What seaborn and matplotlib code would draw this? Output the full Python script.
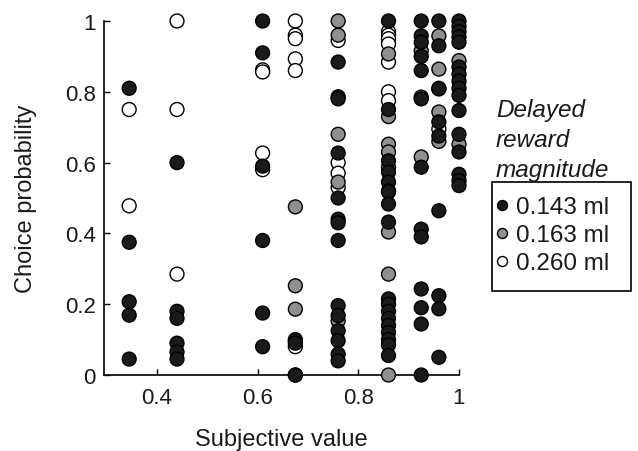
import numpy as np
import pandas as pd
import matplotlib
matplotlib.use("Agg")
import matplotlib.pyplot as plt
from matplotlib.patches import Rectangle
import seaborn as sns

# Choice probability vs. subjective value, one list per delayed-reward magnitude
x_0143 = ([0.345] * 5 + [0.44] * 6 + [0.61] * 6 + [0.675] * 3 + [0.76] * 14
          + [0.86] * 18 + [0.925] * 13 + [0.96] * 9 + [1.0] * 16)
y_0143 = [0.81, 0.375, 0.207, 0.169, 0.045,
          0.60, 0.18, 0.16, 0.09, 0.065, 0.045,
          1.0, 0.91, 0.59, 0.38, 0.175, 0.08,
          0.10, 0.09, 0.0,
          0.884, 0.786, 0.78, 0.627, 0.50, 0.44, 0.43, 0.38, 0.196, 0.168, 0.125, 0.097, 0.059, 0.04,
          1.0, 0.75, 0.605, 0.573, 0.545, 0.52, 0.517, 0.483, 0.432, 0.215, 0.2, 0.18, 0.16, 0.14,
          0.12, 0.1, 0.085, 0.055,
          1.0, 0.958, 0.94, 0.90, 0.86, 0.78, 0.587, 0.412, 0.39, 0.243, 0.19, 0.144, 0.0,
          1.0, 0.93, 0.808, 0.715, 0.675, 0.464, 0.224, 0.187, 0.05,
          1.0, 0.985, 0.97, 0.955, 0.94, 0.87, 0.85, 0.83, 0.81, 0.79, 0.747, 0.68, 0.63, 0.567,
          0.549, 0.535]

x_0163 = [0.675] * 4 + [0.76] * 5 + [0.86] * 8 + [0.925] * 3 + [0.96] * 5 + [1.0] * 2
y_0163 = [0.475, 0.252, 0.186, 0.095,
          1.0, 0.96, 0.68, 0.545, 0.153,
          0.907, 0.73, 0.652, 0.63, 0.587, 0.404, 0.285, 0.0,
          0.916, 0.785, 0.616,
          0.958, 0.864, 0.81, 0.743, 0.66,
          0.888, 0.652]

x_0260 = [0.345] * 2 + [0.44] * 3 + [0.61] * 4 + [0.675] * 7 + [0.76] * 4 + [0.86] * 7 + [0.96]
y_0260 = [0.75, 0.478,
          1.0, 0.75, 0.285,
          0.862, 0.856, 0.627, 0.58,
          1.0, 0.96, 0.95, 0.893, 0.86, 0.08, 0.0,
          0.945, 0.6, 0.57, 0.53,
          0.97, 0.96, 0.95, 0.935, 0.884, 0.80, 0.775,
          0.695]

magnitudes = ["0.143 ml", "0.163 ml", "0.260 ml"]
colors = ["#1a1a1a", "#8f8f8f", "#ffffff"]
x_ticks = [0.4, 0.6, 0.8, 1.0]
x_tick_labels = ["0.4", "0.6", "0.8", "1"]
y_ticks = [0, 0.2, 0.4, 0.6, 0.8, 1.0]
y_tick_labels = ["0", "0.2", "0.4", "0.6", "0.8", "1"]

# white drawn first, black last so filled markers sit on top
df = pd.concat([
    pd.DataFrame({"value": x_0260, "prob": y_0260, "mag": magnitudes[2]}),
    pd.DataFrame({"value": x_0163, "prob": y_0163, "mag": magnitudes[1]}),
    pd.DataFrame({"value": x_0143, "prob": y_0143, "mag": magnitudes[0]}),
], ignore_index=True)

sns.set_style("white")
plt.rcParams["font.family"] = ["Liberation Sans", "DejaVu Sans"]

fig = plt.figure(figsize=(6.38, 4.52), dpi=100)
ax = fig.add_axes([104 / 638, 1 - 376 / 452, 355 / 638, 354 / 452])

sns.scatterplot(data=df, x="value", y="prob", hue="mag", hue_order=magnitudes,
                palette=dict(zip(magnitudes, colors)), s=100, edgecolor="black",
                linewidth=1.0, ax=ax, clip_on=False, zorder=3)

ax.set_xlim(0.295, 1.0)
ax.set_ylim(0, 1)
ax.set_xticks(x_ticks)
ax.set_xticklabels(x_tick_labels)
ax.set_yticks(y_ticks)
ax.set_yticklabels(y_tick_labels)
ax.tick_params(direction="in", length=4, width=1, labelsize=16, color="black",
               labelcolor="#1a1a1a", left=True, bottom=True)
ax.tick_params(axis="x", pad=9)
ax.tick_params(axis="y", pad=6)
for side in ["top", "right"]:
    ax.spines[side].set_visible(False)
for side in ["left", "bottom"]:
    ax.spines[side].set_color("black")
    ax.spines[side].set_linewidth(1.2)
ax.set_xlabel("Subjective value", fontsize=17, labelpad=14, color="#1a1a1a")
ax.set_ylabel("Choice probability", fontsize=17, labelpad=20, color="#1a1a1a")

# legend entries without their own frame; the box is drawn separately
handles, labels = ax.get_legend_handles_labels()
leg = ax.legend(handles, labels, loc="upper left", bbox_to_anchor=(497 / 638, 1 - 197 / 452),
                bbox_transform=fig.transFigure, borderaxespad=0, frameon=False,
                fontsize=17.5, markerscale=0.72, handletextpad=0.4, borderpad=0,
                labelspacing=0.25, handlelength=0.4)
for t in leg.get_texts():
    t.set_color("#1a1a1a")
fig.patches.append(Rectangle((492 / 638, 1 - 292 / 452), 139 / 638, 109 / 452,
                             transform=fig.transFigure, fill=False,
                             edgecolor="black", linewidth=1.2))

fig.text(496 / 638, 1 - 99 / 452, "Delayed\nreward\nmagnitude", fontsize=17.5,
         style="italic", va="top", ha="left", linespacing=1.38, color="#1a1a1a")

fig.savefig("out.png", dpi=100)
